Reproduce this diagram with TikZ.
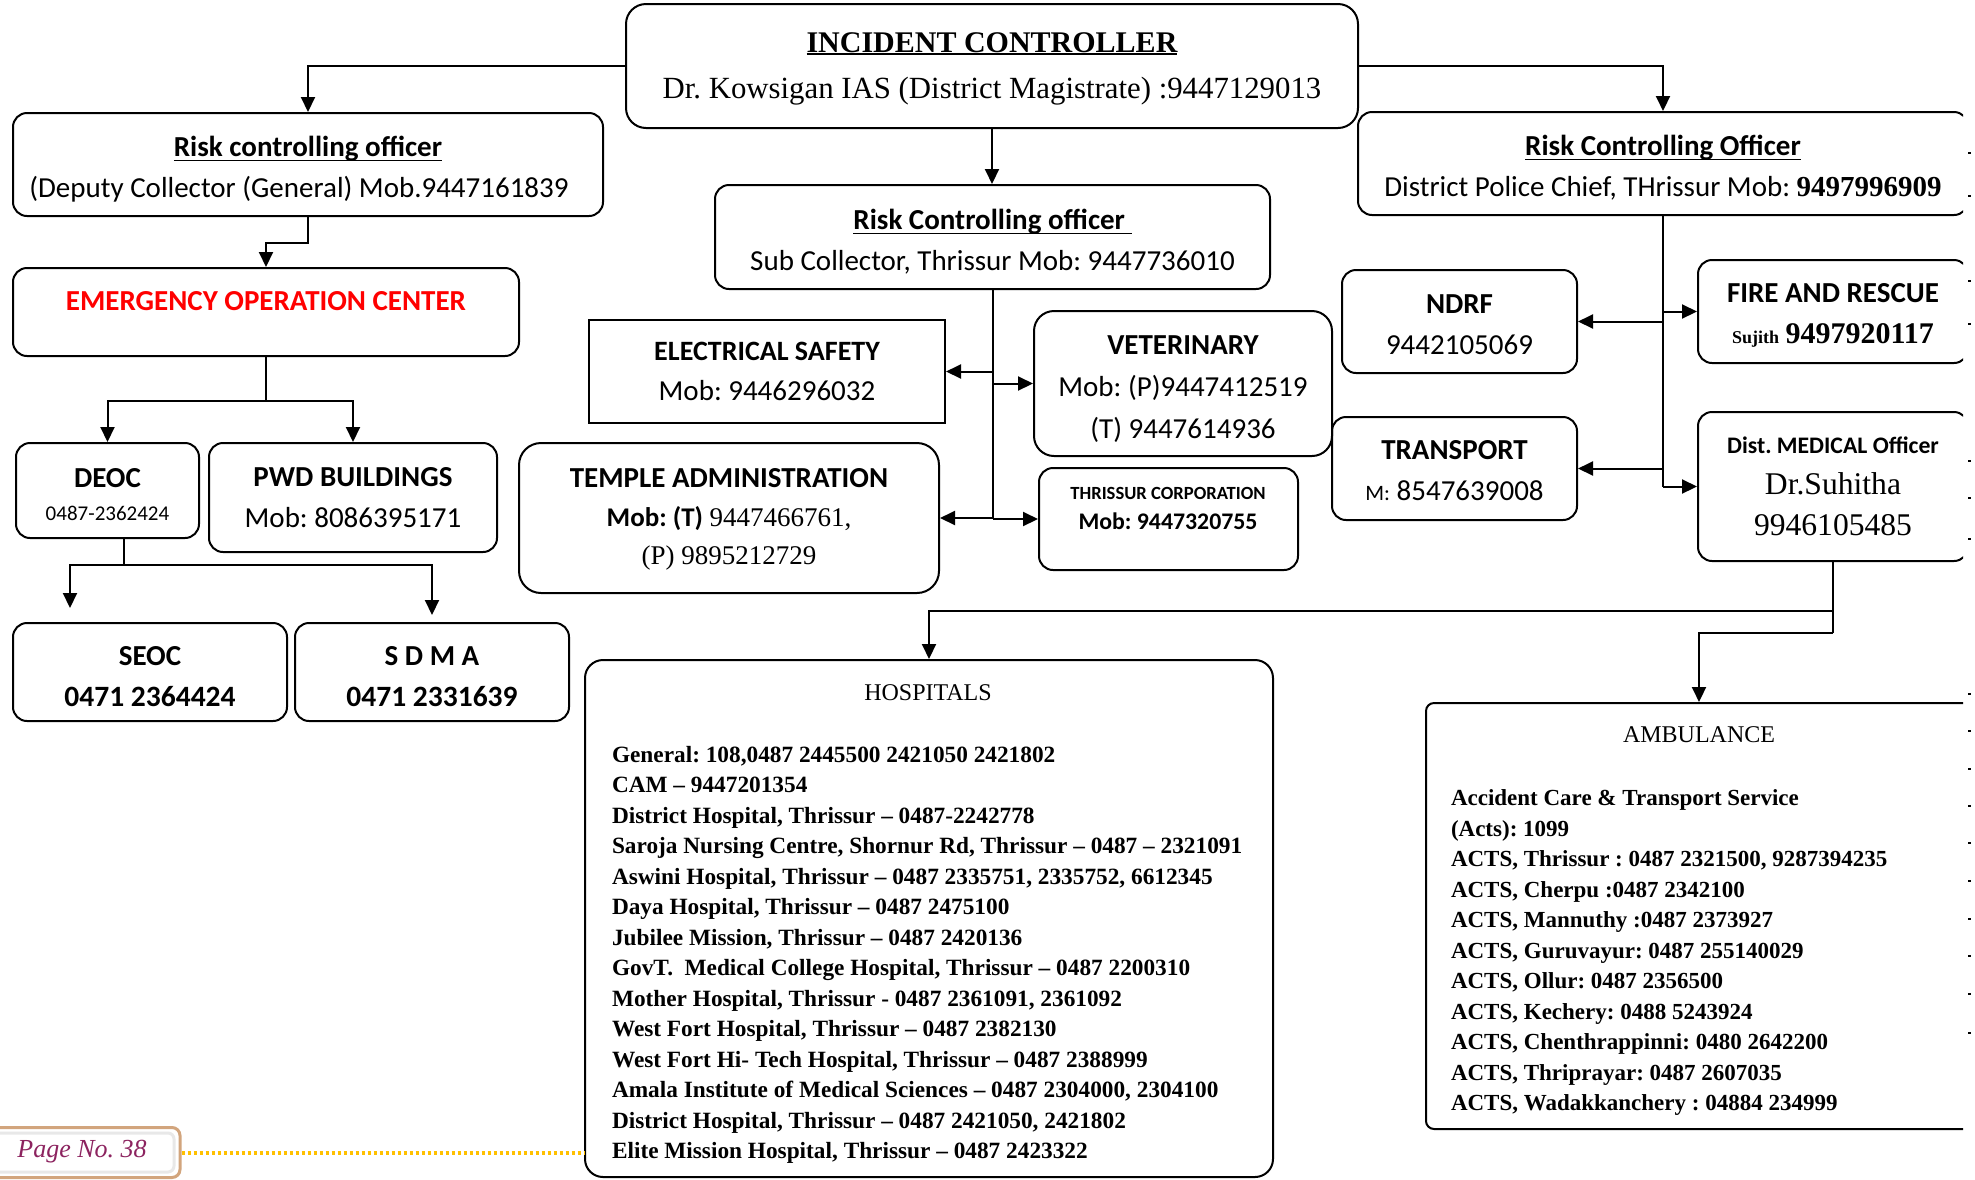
\documentclass[tikz,border=0pt]{standalone}
\usepackage{fontspec}
\setmainfont{Liberation Serif}
\setsansfont{Carlito}
\usetikzlibrary{arrows.meta,calc}
\newcommand{\fsz}[2]{\fontsize{#1}{#2}\selectfont}
\newcommand{\ulx}[2][4.5pt]{\setbox0\hbox{#2}\rlap{\rule[-#1]{\wd0}{1.8pt}}\box0}
\newcommand{\tsx}[1]{\rule{0pt}{#1}}
\definecolor{eocred}{RGB}{255,0,0}
\definecolor{pagetan}{RGB}{210,165,125}
\definecolor{pagepurple}{RGB}{140,35,95}
\definecolor{dotorange}{RGB}{255,192,0}
\begin{document}
\frenchspacing
\begin{tikzpicture}[x=1pt,y=-1pt,line width=2pt,
  box/.style={draw, rounded corners=14pt, line width=2pt, align=center,
    font=\sffamily\fsz{29}{41}, inner sep=0pt},
  bx/.style 2 args={minimum width=#1, minimum height=#2},
  arr/.style={-{Triangle[length=15pt,width=14pt]}, line width=2pt},
  listtext/.style={anchor=north west, align=left, inner sep=0pt,
    font=\rmfamily\bfseries\fsz{23.3}{30.5}},
  titletext/.style={font=\rmfamily\fsz{24}{30}, inner sep=0pt}]
\clip (0,0) rectangle (1975,1179);
\fill[white] (0,0) rectangle (1975,1179);

% top
\node[box, bx={732pt}{124pt}, rounded corners=20pt, font=\rmfamily\fsz{30.8}{46}] (ic) at (992,66)
  {\tsx{25pt}\ulx[3pt]{\fontsize{30}{46}\selectfont\bfseries INCIDENT CONTROLLER}\\Dr. Kowsigan IAS (District Magistrate) :9447129013};

\node[box, bx={590pt}{103pt}] (rcol) at (308,164.5)
  {\tsx{30.5pt}\ulx{\bfseries Risk controlling officer}\\(Deputy Collector (General) Mob.9447161839\hspace*{18pt}};

\node[box, bx={506pt}{88pt}] (eoc) at (266,312) {};
\node[font=\sffamily\bfseries\fsz{29}{35}, text=eocred] (eoctext) at (266,301) {EMERGENCY OPERATION CENTER};

\node[box, bx={555pt}{104pt}] (rcos) at (992.5,237)
  {\tsx{30.5pt}\ulx{\bfseries Risk Controlling officer\ }\\Sub Collector, Thrissur Mob: 9447736010};

\begin{scope}
\clip (0,0) rectangle (1963,1179);
\node[box, bx={610pt}{103pt}] (rcor) at (1663,163.5)
  {\tsx{29.5pt}\ulx{\bfseries Risk Controlling Officer}\\District Police Chief, THrissur Mob: {\rmfamily\bfseries 9497996909}};
\node[box, bx={270pt}{103pt}] (fire) at (1833,311.5)
  {\tsx{27.7pt}{\bfseries FIRE AND RESCUE}\\{\rmfamily\bfseries\fsz{18}{41}Sujith} {\rmfamily\bfseries\fsz{30}{41}9497920117}};
\node[box, bx={270pt}{149pt}, font=\rmfamily\fsz{31.6}{41}] (med) at (1833,486.5)
  {{\sffamily\bfseries\fsz{23.7}{41}Dist. MEDICAL Officer}\\Dr.Suhitha\\9946105485};
\node[box, rounded corners=8pt, bx={546pt}{426pt}] (amb) at (1699,916) {};
\end{scope}

\node[box, bx={235pt}{103pt}] (ndrf) at (1459.5,321.5) {\tsx{24.7pt}{\bfseries NDRF}\\9442105069};
\node[box, bx={245pt}{103pt}] (transport) at (1454.5,468.5) {\tsx{23.7pt}{\bfseries TRANSPORT}\\{\fsz{22}{41}M:} 8547639008};

\node[box, rounded corners=0pt, bx={356pt}{103pt}, font=\sffamily\fsz{29}{40}] (elec) at (767,371.5)
  {{\bfseries\fsz{28}{40}ELECTRICAL SAFETY}\\Mob: 9446296032};
\node[box, rounded corners=20pt, bx={298pt}{145pt}, font=\sffamily\fsz{29}{42}] (vet) at (1183,383.5)
  {\tsx{30.7pt}{\bfseries VETERINARY}\\Mob: (P)9447412519\\(T) 9447614936};
\node[box, rounded corners=22pt, bx={420pt}{150pt}, font=\sffamily\fsz{29}{38.5}] (temple) at (729,518)
  {\tsx{22.7pt}{\bfseries TEMPLE ADMINISTRATION}\\{\bfseries\fsz{27}{38.5}Mob: (T)} {\rmfamily\fsz{27}{38.5}9447466761,}\\{\rmfamily\fsz{27}{38.5}(P) 9895212729}};
\node[box, bx={259pt}{102pt}] (corp) at (1168.5,519) {};
\node[font=\sffamily\bfseries\fsz{23.8}{30}, align=center, inner sep=0pt] (corptext) at (1168,508)
  {{\fsz{18.6}{30}THRISSUR CORPORATION}\\Mob: 9447320755};

% left column
\node[box, bx={183pt}{95pt}, font=\sffamily\fsz{29}{33}] (deoc) at (107.5,490.5)
  {\tsx{26.7pt}{\bfseries DEOC}\\{\fsz{21}{33}0487-2362424}};
\node[box, bx={288pt}{109pt}] (pwd) at (353,497.5) {{\bfseries PWD BUILDINGS}\\Mob: 8086395171};
\node[box, bx={274pt}{98pt}] (seoc) at (150,672) {\tsx{28.7pt}{\bfseries SEOC}\\{\bfseries\fsz{29.5}{41}0471 2364424}};
\node[box, bx={274pt}{98pt}] (sdma) at (432,672) {\tsx{28.7pt}{\bfseries S D M A}\\{\bfseries\fsz{29.5}{41}0471 2331639}};

% hospitals
\node[box, rounded corners=18pt, bx={688pt}{517pt}] (hosp) at (929,918.5) {};
\node[titletext] (hosptitle) at (928,693) {HOSPITALS};
\node[listtext] (hosplist) at (611,745) {General: 108,0487 2445500 2421050 2421802\\
CAM – 9447201354\\
District Hospital, Thrissur – 0487-2242778\\
Saroja Nursing Centre, Shornur Rd, Thrissur – 0487 – 2321091\\
Aswini Hospital, Thrissur – 0487 2335751, 2335752, 6612345\\
Daya Hospital, Thrissur – 0487 2475100\\
Jubilee Mission, Thrissur – 0487 2420136\\
GovT.~ Medical College Hospital, Thrissur – 0487 2200310\\
Mother Hospital, Thrissur - 0487 2361091, 2361092\\
West Fort Hospital, Thrissur – 0487 2382130\\
West Fort Hi- Tech Hospital, Thrissur – 0487 2388999\\
Amala Institute of Medical Sciences – 0487 2304000, 2304100\\
District Hospital, Thrissur – 0487 2421050, 2421802\\
Elite Mission Hospital, Thrissur – 0487 2423322};

% ambulance
\node[titletext] (ambtitle) at (1699,735) {AMBULANCE};
\node[listtext, font=\rmfamily\bfseries\fsz{23}{30.5}] (amblist) at (1450,789) {Accident Care \& Transport Service\\
(Acts): 1099\\
ACTS, Thrissur : 0487 2321500, 9287394235\\
ACTS, Cherpu :0487 2342100\\
ACTS, Mannuthy :0487 2373927\\
ACTS, Guruvayur: 0487 255140029\\
ACTS, Ollur: 0487 2356500\\
ACTS, Kechery: 0488 5243924\\
ACTS, Chenthrappinni: 0480 2642200\\
ACTS, Thriprayar: 0487 2607035\\
ACTS, Wadakkanchery : 04884 234999};

% connectors
\draw[arr] (ic.west) -| (rcol.north);
\draw[arr] (ic.east) -| (rcor.north);
\draw[arr] (ic.south) -- (ic.south |- rcos.north);
\draw[arr] (rcol.south) -- ++(0,26) -| (eoc.north);
\draw (eoc.south) -- ++(0,44) coordinate (eocj);
\draw[arr] (eocj) -| (deoc.north);
\draw[arr] (eocj) -| (pwd.north);
\coordinate (dj) at (124,565);
\coordinate (seoctip) at (70,608);
\coordinate (sdmatip) at (432,615);
\draw (deoc.south -| dj) -- (dj);
\draw[arr] (dj) -| (seoctip);
\draw[arr] (dj) -| (sdmatip);

\draw (rcos.south) -- (rcos.south |- corp.west);
\draw[arr] (rcos.south |- elec.east) -- (elec.east);
\draw[arr] (rcos.south |- vet.west) -- (vet.west);
\draw[arr] (rcos.south |- temple.east) -- (temple.east);
\draw[arr] (rcos.south |- corp.west) -- (corp.west);

\draw (rcor.south) -- (rcor.south |- med.west);
\draw[arr] (rcor.south |- ndrf.east) -- (ndrf.east);
\draw[arr] (rcor.south |- fire.west) -- (fire.west);
\draw[arr] (rcor.south |- transport.east) -- (transport.east);
\draw[arr] (rcor.south |- med.west) -- (med.west);

\coordinate (mj1) at (1833,611);
\coordinate (mj2) at (1833,633);
\draw (med.south) -- (mj2);
\draw[arr] (mj1) -| (hosp.north);
\draw[arr] (mj2) -| (amb.north);

% page label
\node[draw=pagetan, line width=3pt, rounded corners=8pt, fill=white,
  minimum width=200pt, minimum height=50pt, inner sep=0pt] (page) at (80,1152.5) {};
\draw[gray!18, line width=3pt, rounded corners=6pt] (-20,1133) rectangle (174,1172);
\node[font=\rmfamily\itshape\fsz{26}{30}, text=pagepurple] (pagetext) at (82,1152) {Page No. 38};
\draw[dotorange, line width=4pt, dash pattern=on 3.5pt off 2.5pt] (page.east) -- (hosp.west |- page.east);

% right edge marks
\foreach \yy in {152,195,280,323,460,497,538,693,730,768,805,842,880,918,955,993,1032}
  \fill (1968,\yy) rectangle ++(3,2);
\end{tikzpicture}
\end{document}
